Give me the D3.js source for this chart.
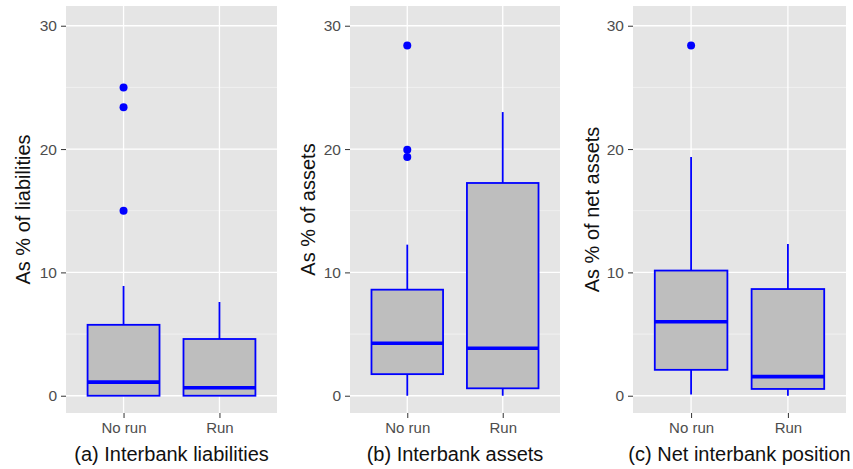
<!DOCTYPE html>
<html><head><meta charset="utf-8">
<script src="https://cdn.jsdelivr.net/npm/d3@7"></script>
<style>body{margin:0;background:#fff}svg{display:block}</style>
</head><body>
<script>
const categories = ["No run", "Run"];
const panelTitles = ["(a) Interbank liabilities", "(b) Interbank assets", "(c) Net interbank position"];
const yTitles = ["As % of liabilities", "As % of assets", "As % of net assets"];
const yTicks = [0, 10, 20, 30];
const yMinor = [5, 15, 25];
// [lowerWhisker, Q1, median, Q3, upperWhisker]
const statsA = [[0, 0, 1.1, 5.75, 8.9], [0, 0, 0.65, 4.6, 7.6]];
const statsB = [[0, 1.75, 4.25, 8.6, 12.25], [0, 0.6, 3.85, 17.25, 23.0]];
const statsC = [[0.1, 2.1, 6.0, 10.15, 19.35], [0, 0.55, 1.55, 8.65, 12.3]];
const outliersA = [[25.0, 23.4, 15.0], []];
const outliersB = [[28.4, 19.95, 19.35], []];
const outliersC = [[28.4], []];

const W = 853, H = 469;
const svg = d3.select("body").append("svg").attr("width", W).attr("height", H);
const panels = [
  {left: 66, right: 277, stats: statsA, out: outliersA, tx: 30},
  {left: 350, right: 560, stats: statsB, out: outliersB, tx: 315},
  {left: 633, right: 846, stats: statsC, out: outliersC, tx: 599}
];
const pTop = 6, pBottom = 413;
const font = "'Liberation Sans', Arial, sans-serif";

panels.forEach((p, i) => {
  const g = svg.append("g");
  const y = d3.scaleLinear().domain([-1.4, 31.6]).range([pBottom, pTop]);
  const xc = d3.scaleLinear().domain([0.4, 2.6]).range([p.left, p.right]);
  const cx = c => xc(categories.indexOf(c) + 1);
  const bw = xc(0.75) - xc(0);

  g.append("rect").attr("x", p.left).attr("y", pTop).attr("width", p.right - p.left).attr("height", pBottom - pTop).attr("fill", "#e5e5e5");
  yMinor.forEach(t => g.append("line").attr("x1", p.left).attr("x2", p.right).attr("y1", y(t)).attr("y2", y(t)).attr("stroke", "#f2f2f2").attr("stroke-width", 0.8));
  yTicks.forEach(t => g.append("line").attr("x1", p.left).attr("x2", p.right).attr("y1", y(t)).attr("y2", y(t)).attr("stroke", "#fff").attr("stroke-width", 1.3));
  categories.forEach(c => g.append("line").attr("x1", cx(c)).attr("x2", cx(c)).attr("y1", pTop).attr("y2", pBottom).attr("stroke", "#fff").attr("stroke-width", 1.3));

  const ya = g.append("g").attr("transform", `translate(${p.left},0)`)
    .call(d3.axisLeft(y).tickValues(yTicks).tickSize(5).tickPadding(4));
  ya.select(".domain").remove();
  ya.selectAll(".tick line").attr("stroke", "#333").attr("stroke-width", 1);
  ya.selectAll(".tick text").attr("fill", "#4d4d4d").attr("font-size", 15.5).attr("font-family", font);

  const xa = g.append("g").attr("transform", `translate(0,${pBottom})`)
    .call(d3.axisBottom(xc).tickValues([1, 2]).tickFormat(d => categories[d - 1]).tickSize(5).tickPadding(4));
  xa.select(".domain").remove();
  xa.selectAll(".tick line").attr("stroke", "#333").attr("stroke-width", 1);
  xa.selectAll(".tick text").attr("fill", "#4d4d4d").attr("font-size", 15).attr("font-family", font);

  categories.forEach((c, j) => {
    const s = p.stats[j];
    const xm = cx(c);
    g.append("line").attr("x1", xm).attr("x2", xm).attr("y1", y(s[3])).attr("y2", y(s[4])).attr("stroke", "#0000ff").attr("stroke-width", 1.8);
    g.append("line").attr("x1", xm).attr("x2", xm).attr("y1", y(s[0])).attr("y2", y(s[1])).attr("stroke", "#0000ff").attr("stroke-width", 1.8);
    g.append("rect").attr("x", xm - bw / 2).attr("width", bw).attr("y", y(s[3])).attr("height", y(s[1]) - y(s[3]))
      .attr("fill", "#bebebe").attr("stroke", "#0000ff").attr("stroke-width", 1.8);
    g.append("line").attr("x1", xm - bw / 2).attr("x2", xm + bw / 2).attr("y1", y(s[2])).attr("y2", y(s[2])).attr("stroke", "#0000ff").attr("stroke-width", 3.6);
    p.out[j].forEach(v => g.append("circle").attr("cx", xm).attr("cy", y(v)).attr("r", 4).attr("fill", "#0000ff"));
  });

  g.append("text").attr("x", (p.left + p.right) / 2).attr("y", 461).attr("text-anchor", "middle")
    .attr("font-size", 20).attr("font-family", font).attr("fill", "#111").text(panelTitles[i]);
  g.append("text").attr("transform", `translate(${p.tx},${(pTop + pBottom) / 2}) rotate(-90)`).attr("text-anchor", "middle")
    .attr("font-size", 20).attr("font-family", font).attr("fill", "#111").text(yTitles[i]);
});
</script>
</body></html>
